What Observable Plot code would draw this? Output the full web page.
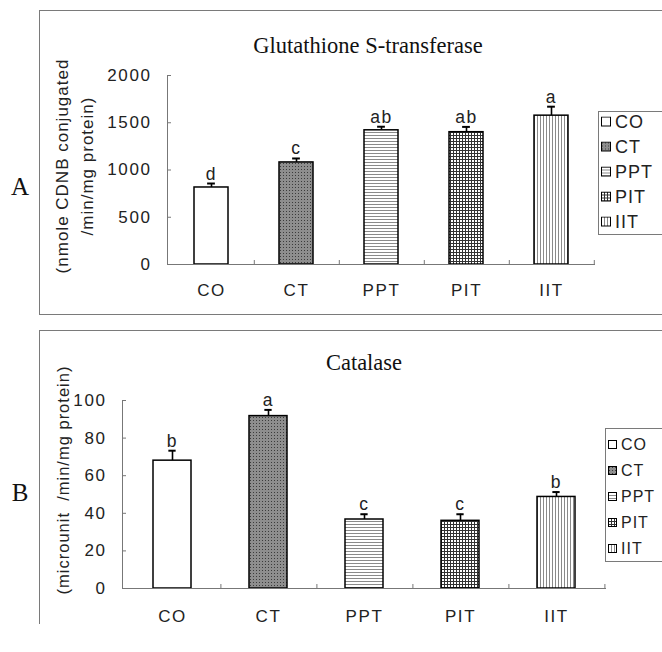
<!DOCTYPE html>
<html><head><meta charset="utf-8">
<script src="https://cdn.jsdelivr.net/npm/d3@7"></script>
<script src="https://cdn.jsdelivr.net/npm/@observablehq/plot@0.6"></script>
<style>
html,body{margin:0;padding:0;background:#fff;}
#page{position:relative;width:662px;height:652px;overflow:hidden;font-family:"Liberation Sans",Arial,sans-serif;color:#222;}
.panel{position:absolute;box-sizing:border-box;border:1px solid #7a7a7a;}
.c{position:absolute;transform:translate(-50%,-50%);white-space:nowrap;}
.serif{font-family:"Liberation Serif","Times New Roman",serif;color:#111;}
.ylab{position:absolute;transform:translate(-50%,-50%) rotate(-90deg);white-space:nowrap;text-align:center;letter-spacing:1px;}
.legend{position:absolute;box-sizing:border-box;border:1px solid #7a7a7a;background:#fff;width:120px;}
.legend .row{position:absolute;left:2px;display:flex;align-items:center;white-space:nowrap;letter-spacing:1px;transform:translateY(-50%);}
.legend svg{margin-right:3px;}
svg.chart{position:absolute;left:0;}
</style></head><body>
<svg width="0" height="0" style="position:absolute">
<defs>
<pattern id="pat-ct" width="3" height="3" patternUnits="userSpaceOnUse"><rect width="3" height="3" fill="#8e8e8e"/><rect x="1" y="1" width="1" height="1" fill="#3c3c3c"/></pattern>
<pattern id="pat-ppt" width="3" height="3" patternUnits="userSpaceOnUse"><rect width="3" height="3" fill="#fff"/><rect width="3" height="1" fill="#8a8a8a"/></pattern>
<pattern id="pat-pit" width="3" height="3" patternUnits="userSpaceOnUse"><rect width="3" height="3" fill="#fff"/><rect width="3" height="1" fill="#333"/><rect width="1" height="3" fill="#333"/></pattern>
<pattern id="pat-iit" width="3" height="3" patternUnits="userSpaceOnUse"><rect width="3" height="3" fill="#fff"/><rect width="1" height="3" fill="#8a8a8a"/></pattern>
</defs></svg>
<div id="page"></div>
<script>
// ---- data ----
const categories = ["CO", "CT", "PPT", "PIT", "IIT"];
const gstValues = [815, 1080, 1420, 1400, 1575];
const gstErrors = [42, 42, 38, 56, 95];
const gstLetters = ["d", "c", "ab", "ab", "a"];
const gstTicks = [0, 500, 1000, 1500, 2000];
const catValues = [68, 91.7, 36.7, 36, 48.7];
const catErrors = [5.3, 3.3, 2.8, 3.5, 2.6];
const catLetters = ["b", "a", "c", "c", "b"];
const catTicks = [0, 20, 40, 60, 80, 100];
const fills = {CO: "#fff", CT: "url(#pat-ct)", PPT: "url(#pat-ppt)", PIT: "url(#pat-pit)", IIT: "url(#pat-iit)"};

const page = document.getElementById("page");
function el(html) { const d = document.createElement("div"); d.innerHTML = html; const n = d.firstElementChild; page.appendChild(n); return n; }

function panelChart({values, errors, letters, ticks, domain, width, height, ml, mr, mt, mb, yPad, xPad}) {
  const data = categories.map((c, i) => ({cat: c, v: values[i], top: values[i] + errors[i], letter: letters[i]}));
  const step = (width - ml - mr) / categories.length;
  const bw = step * 0.4;
  const svg = Plot.plot({
    width, height, marginLeft: ml, marginRight: mr, marginTop: mt, marginBottom: mb,
    style: {fontFamily: '"Liberation Sans", Arial, sans-serif', fontSize: "17px", color: "#222", background: "transparent", overflow: "visible", letterSpacing: "1.6px"},
    x: {domain: categories, paddingInner: 0.6, paddingOuter: 0.3, label: null},
    y: {domain, label: null},
    color: {type: "identity"},
    marks: [
      Plot.ruleX(data, {x: "cat", y1: "v", y2: "top", stroke: "#000", strokeWidth: 1.6}),
      Plot.barY(data, {x: "cat", y: "v", fill: d => fills[d.cat], stroke: "#000", strokeWidth: 1.5}),
      Plot.tickY(data, {x: "cat", y: "top", stroke: "#000", strokeWidth: 2, inset: (bw - 8) / 2}),
      Plot.text(data, {x: "cat", y: "top", text: "letter", lineAnchor: "bottom", dy: -4, fontSize: 17.5, fill: "#222"}),
      Plot.ruleY([0], {stroke: "#777"}),
      Plot.frame({anchor: "left", stroke: "#777"}),
      Plot.axisY({ticks, tickSize: 4, dx: 4, fill: "none", stroke: "#777", label: null}),
      Plot.axisY({ticks, tickSize: 0, tickPadding: yPad, tickFormat: d => String(d), stroke: "none", fill: "#222", label: null}),
      Plot.axisX({tickSize: 4, dx: step / 2, dy: -4, fill: "none", stroke: "#777", label: null}),
      Plot.axisX({tickSize: 0, tickPadding: xPad, stroke: "none", fill: "#222", label: null})
    ]
  });
  svg.classList.add("chart");
  return svg;
}

// panel borders
el('<div class="panel" style="left:39px;top:10px;width:700px;height:305px;"></div>');
el('<div class="panel" style="left:39px;top:330px;width:700px;height:294px;border-bottom:none;"></div>');

// charts
const a = panelChart({values: gstValues, errors: gstErrors, letters: gstLetters, ticks: gstTicks, domain: [0, 2000],
  width: 662, height: 320, ml: 167, mr: 67, mt: 75, mb: 56, yPad: 16, xPad: 19});
a.style.top = "0px"; page.appendChild(a);
const b = panelChart({values: catValues, errors: catErrors, letters: catLetters, ticks: catTicks, domain: [0, 100],
  width: 662, height: 332, ml: 122, mr: 56, mt: 80, mb: 64, yPad: 16, xPad: 21});
b.style.top = "320px"; page.appendChild(b);

// titles and labels
el('<div class="c serif" style="left:368px;top:46px;font-size:22.5px;">Glutathione S-transferase</div>');
el('<div class="c serif" style="left:364px;top:363px;font-size:22.5px;">Catalase</div>');
el('<div class="c serif" style="left:20px;top:187px;font-size:25px;">A</div>');
el('<div class="c serif" style="left:20px;top:493px;font-size:25px;">B</div>');
el('<div class="ylab" style="left:75px;top:166px;font-size:17px;line-height:25px;">(nmole CDNB conjugated<br>/min/mg protein)</div>');
el('<div class="ylab" style="left:63px;top:480px;font-size:16.5px;">(microunit&nbsp; /min/mg protein)</div>');

// legends
function legend(left, top, h, firstY, gap, fontSize, sw) {
  const box = el(`<div class="legend" style="left:${left}px;top:${top}px;height:${h}px;font-size:${fontSize}px;"></div>`);
  categories.forEach((c, i) => {
    const r = document.createElement("div");
    r.className = "row";
    r.style.top = (firstY + i * gap) + "px";
    r.innerHTML = `<svg width="${sw + 1}" height="${sw + 1}"><rect x="0.5" y="0.5" width="${sw - 1}" height="${sw - 1}" fill="${fills[c]}" stroke="#000"/></svg><span>${c}</span>`;
    box.appendChild(r);
  });
}
legend(598, 111, 124, 10, 25, 18, 10);
legend(605, 428, 134, 16, 26, 16, 9);
</script>
</body></html>
